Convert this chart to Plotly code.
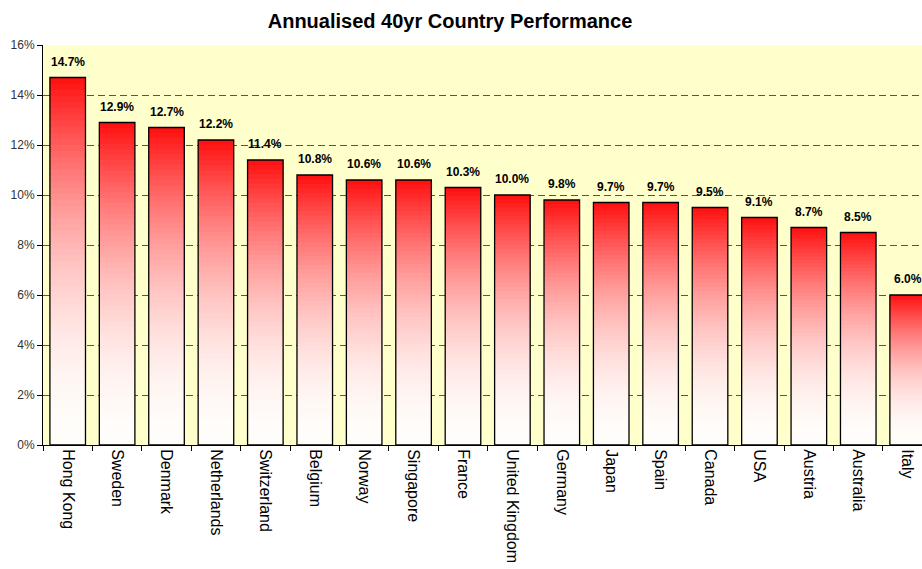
import plotly.graph_objects as go

countries = ["Hong Kong", "Sweden", "Denmark", "Netherlands", "Switzerland", "Belgium",
             "Norway", "Singapore", "France", "United Kingdom", "Germany", "Japan",
             "Spain", "Canada", "USA", "Austria", "Australia", "Italy"]
returns_pct = [14.7, 12.9, 12.7, 12.2, 11.4, 10.8, 10.6, 10.6, 10.3, 10.0, 9.8, 9.7,
               9.7, 9.5, 9.1, 8.7, 8.5, 6.0]
labels = [f"{v:.1f}%" for v in returns_pct]
y_ticks = [0, 2, 4, 6, 8, 10, 12, 14, 16]
y_ticktext = [f"{v}%" for v in y_ticks]

N = 60
BW = 0.72
fig = go.Figure()

def lerp(a, b, t):
    return int(round(a + (b - a) * t))

# gradient: white at bottom -> red at top, each bar scaled to its own height
for k in range(N):
    f = (k + 0.5) / N
    t = f ** 2
    col = f"rgb(255,{lerp(253, 14, t)},{lerp(250, 14, t)})"
    bases = [v * k / N for v in returns_pct]
    heights = [v * (1.6 / N) if k < N - 1 else v / N for v in returns_pct]
    fig.add_trace(go.Bar(x=countries, y=heights, base=bases, width=BW,
                         marker=dict(color=col, line=dict(width=0)),
                         hoverinfo="skip", showlegend=False))

fig.add_trace(go.Bar(x=countries, y=returns_pct, width=BW,
                     marker=dict(color="rgba(0,0,0,0)", line=dict(color="black", width=1.3)),
                     showlegend=False))

for c, v, lab in zip(countries, returns_pct, labels):
    fig.add_annotation(x=c, y=v, text=f"<b>{lab}</b>", showarrow=False,
                       yanchor="bottom", xanchor="center", yshift=7,
                       font=dict(family="Liberation Sans, Arial", size=12, color="black"))

fig.update_layout(
    width=922, height=569,
    barmode="overlay",
    margin=dict(l=43, r=0, t=45, b=124, autoexpand=False),
    paper_bgcolor="white",
    plot_bgcolor="#FFFFCC",
    font=dict(family="Liberation Sans, Arial", size=12, color="black"),
    title=dict(text="<b>Annualised 40yr Country Performance</b>",
               x=450 / 922, xanchor="center", y=1 - 21 / 569, yanchor="middle",
               yref="container", font=dict(size=20, color="black")),
    xaxis=dict(range=[-0.5, 17.29], tickangle=90, ticks="outside", ticklen=5,
               tickson="boundaries", tickcolor="black", showline=True, linecolor="black",
               linewidth=1, showgrid=False, tickfont=dict(size=16), automargin=False),
    yaxis=dict(range=[0, 16], tickmode="array", tickvals=y_ticks, ticktext=y_ticktext,
               ticks="outside", ticklen=5, tickcolor="black", showline=True,
               linecolor="black", linewidth=1,
               showgrid=True, gridcolor="#555555", griddash="7px,4px", gridwidth=1,
               zeroline=False, tickfont=dict(size=12, color="#333333"), automargin=False),
)

fig.write_html("out.html",
               config={"displayModeBar": False},
               post_script="document.body.style.margin='0';"
                           "document.body.style.overflow='hidden';"
                           "document.documentElement.style.overflow='hidden';")
